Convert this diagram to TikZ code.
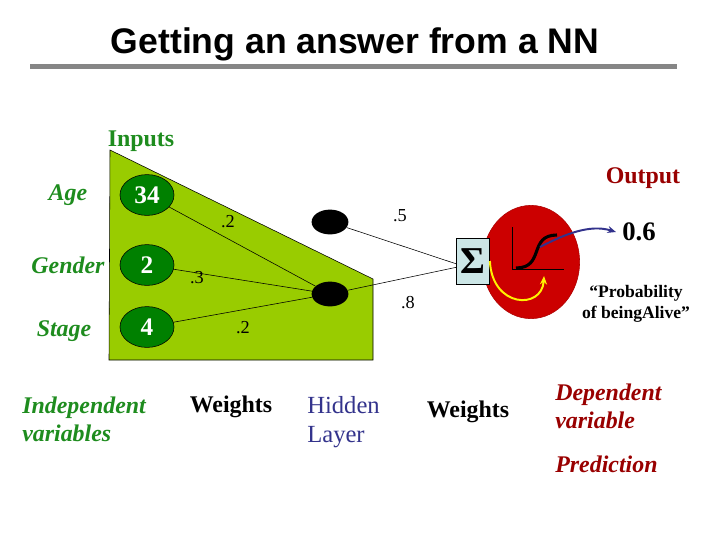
\documentclass[tikz,border=0pt]{standalone}
\usepackage{fontspec}
\setmainfont{Liberation Serif}
\newfontfamily\titlefont{Liberation Sans}
\usetikzlibrary{shapes.geometric,arrows.meta,positioning,calc}
\definecolor{leafgreen}{RGB}{153,204,0}
\definecolor{inputgreen}{RGB}{0,128,0}
\definecolor{labelgreen}{RGB}{30,140,30}
\definecolor{outred}{RGB}{204,0,0}
\definecolor{darkred}{RGB}{153,0,0}
\definecolor{sigmablue}{RGB}{204,230,230}
\definecolor{hiddenblue}{RGB}{51,51,140}
\definecolor{arrowblue}{RGB}{50,50,140}

\begin{document}
\begin{tikzpicture}[x=0.025cm,y=-0.025cm,
          inputnode/.style={ellipse,draw,fill=inputgreen,text=white,
            font=\fontsize{18}{18}\selectfont\bfseries,
            minimum width=1.35cm,minimum height=1.02cm,inner sep=0pt},
          hiddennode/.style={ellipse,fill=black,minimum width=0.92cm,
            minimum height=0.62cm,inner sep=0pt},
          varlabel/.style={text=labelgreen,font=\fontsize{17}{20}\selectfont\bfseries\itshape},
          deplabel/.style={text=darkred,font=\fontsize{17}{20}\selectfont\bfseries\itshape,
            align=left,anchor=west,inner sep=0pt},
          weight/.style={font=\fontsize{13}{13}\selectfont},
          caption/.style={font=\fontsize{17.5}{21}\selectfont},
          edge/.style={black,thin}]
  \useasboundingbox (0,0) rectangle (720,540);
  % title
  \node[font=\titlefont\bfseries\fontsize{25.3}{25}\selectfont,anchor=base] (title) at (355,53)
    {Getting an answer from a NN};
  \draw[gray!95,line width=3.5pt] (30,66.5) -- (677,66.5);
  % input side
  \draw[fill=leafgreen] (110,150) -- (373,279) -- (373,360) -- (109,360) -- cycle;
  \node[text=labelgreen,font=\fontsize{17}{17}\selectfont\bfseries] (inputs) at (141,141) {Inputs};
  \node[inputnode] (age) at (147,195) {34};
  \node[inputnode] (gender) at (147,265) {2};
  \node[inputnode] (stage) at (147,327) {4};
  \node[varlabel] (agel) at (68,195) {Age};
  \node[varlabel] (genderl) at (68,265) {Gender};
  \node[varlabel] (stagel) at (64,331) {Stage};
  % hidden layer
  \node[hiddennode] (h1) at (330,222) {};
  \node[hiddennode] (h2) at (330,294) {};
  \draw[edge] (age) -- (h2);
  \draw[edge] (gender) -- (h2);
  \draw[edge] (stage) -- (h2);
  \node[weight] (w1) at (228,222) {.2};
  \node[weight] (w2) at (197,278) {.3};
  \node[weight] (w3) at (243,328) {.2};
  % output neuron
  \node[ellipse,draw=outred!85!black,fill=outred,minimum width=2.43cm,
    minimum height=2.83cm] (out) at (531,262) {};
  \node[rectangle,draw,fill=sigmablue,minimum width=0.83cm,minimum height=1.15cm,
    inner sep=0pt,font=\fontsize{27}{27}\selectfont\bfseries] (sigma) at (473,261) {Σ};
  \draw[edge] (h1) -- ([yshift=-2pt]sigma.west);
  \draw[edge] (h2) -- ([yshift=-4.5pt]sigma.west);
  \node[weight] (w4) at (400,216) {.5};
  \node[weight] (w5) at (408,303) {.8};
  \draw[black] (512,227) -- (512,269) -- (564,269);
  \draw[black,line width=2.2pt] (516,268) .. controls (545,268) and (528,235) .. (557,235);
  \coordinate (sig) at (540,247);
  % labels on the right
  \node[text=darkred,font=\fontsize{17}{17}\selectfont\bfseries] (output) at (643,178) {Output};
  \node[font=\fontsize{19}{19}\selectfont\bfseries] (val) at (639,232) {0.6};
  \node[font=\fontsize{12.5}{14.5}\selectfont\bfseries,align=center] (prob) at (636,304)
    {“Probability\\of beingAlive”};
  \draw[arrowblue,line width=1.4pt,-{Stealth[length=6pt,width=5pt]}]
    (sig) .. controls (565,234) and (590,224) .. ([xshift=-1pt]val.west);
  \draw[yellow,line width=1.4pt,-{Stealth[length=6pt,width=5pt]}]
    (sigma.east) .. controls (492,308) and (542,310) .. (544,276);
  % captions
  \node[varlabel,align=left,anchor=west,inner sep=0pt] (indep) at (22,419)
    {Independent\\variables};
  \node[caption,font=\fontsize{17}{21}\selectfont\bfseries] (weights1) at (231,407) {Weights};
  \node[caption,text=hiddenblue,align=left,anchor=west,inner sep=0pt] (hidden) at (307,422)
    {Hidden\\Layer};
  \node[caption,font=\fontsize{17}{21}\selectfont\bfseries] (weights2) at (468,412) {Weights};
  \node[deplabel] (dep) at (555,406) {Dependent\\variable};
  \node[deplabel] (pred) at (555,464) {Prediction};
\end{tikzpicture}
\end{document}
